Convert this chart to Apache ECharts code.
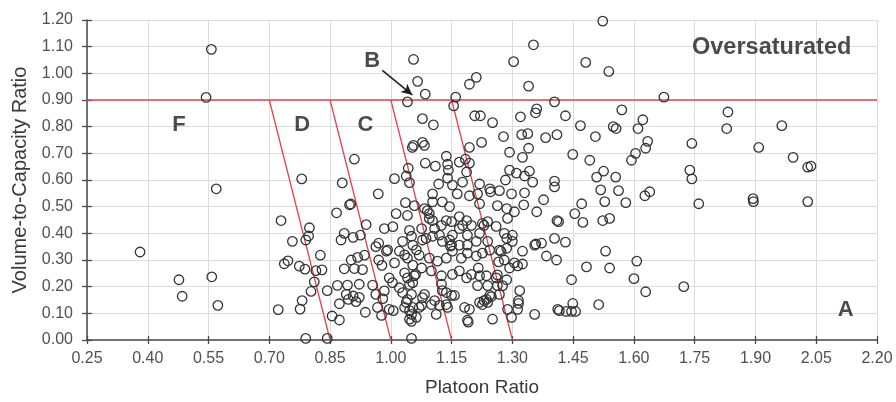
<!DOCTYPE html>
<html><head><meta charset="utf-8">
<script src="https://cdn.jsdelivr.net/npm/echarts@6/dist/echarts.min.js"></script>
<style>html,body{margin:0;padding:0;background:#fff}#c{width:896px;height:402px}</style>
</head><body><div id="c"></div>
<script>
// ---- axis settings ----
const xMin = 0.25, xMax = 2.20, xStep = 0.15;
const yMin = 0.00, yMax = 1.20, yStep = 0.10;
const xTitle = 'Platoon Ratio';
const yTitle = 'Volume-to-Capacity Ratio';

// ---- arrival-type boundaries ----
const vcLimit = 0.90;
const boundaryTopX = [0.70, 0.85, 1.00, 1.15];
const boundaryBottomX = [0.85, 1.00, 1.15, 1.30];

// ---- region labels ----
const regionNames = ['F', 'D', 'C', 'B', 'Oversaturated', 'A'];
const regionX = [0.477, 0.781, 0.937, 0.954, 1.940, 2.123];
const regionY = [0.807, 0.807, 0.807, 1.048, 1.096, 0.111];

// ---- arrow from label B ----
const arrowFrom = [0.979, 1.011];
const arrowTo = [1.053, 0.919];

// ---- observed points: [platoon ratio, v/c ratio] ----
const obsPoints = [
[0.557,1.09],[0.544,0.91],[0.569,0.567],[0.381,0.33],[0.477,0.226],[0.485,0.164],[0.558,0.237],[0.573,0.13],
[0.729,0.448],[0.757,0.370],[0.799,0.421],[0.797,0.39],[0.79,0.375],[0.737,0.286],[0.746,0.297],[0.774,0.277],[0.788,0.266],[0.815,0.26],[0.83,0.263],[0.826,0.318],[0.811,0.218],[0.803,0.182],[0.843,0.185],[0.781,0.148],[0.776,0.116],[0.722,0.114],[0.79,0.006],[0.843,0.006],[0.855,0.09],[0.873,0.075],[0.866,0.477],[0.898,0.507],[0.901,0.51],[0.877,0.375],[0.885,0.40],[0.907,0.385],[0.925,0.393],[0.939,0.433],[0.885,0.267],[0.902,0.30],[0.918,0.31],[0.935,0.318],[0.91,0.268],[0.93,0.264],[0.868,0.205],[0.893,0.206],[0.922,0.209],[0.89,0.171],[0.907,0.165],[0.895,0.152],[0.914,0.144],[0.922,0.16],[0.873,0.136],[0.937,0.104],[0.78,0.604],[0.88,0.589],[0.969,0.548],[0.91,0.678],
[0.955,0.206],[0.963,0.171],[0.967,0.122],[0.977,0.092],[0.98,0.155],[0.984,0.184],[0.963,0.35],[0.97,0.30],[0.978,0.28],[0.989,0.333],[0.984,0.418],[0.996,0.233],[1.004,0.215],[0.996,0.115],[1.006,0.11],[0.97,0.363],[1.005,0.425],[0.992,0.338],[1.013,0.474],[1.036,0.515],[1.041,0.467],[1.029,0.37],[1.021,0.333],[1.009,0.289],[1.034,0.319],[1.041,0.307],[1.046,0.411],[1.051,0.389],[1.054,0.356],[1.063,0.338],[1.021,0.196],[1.029,0.178],[1.034,0.252],[1.041,0.233],[1.046,0.208],[1.054,0.215],[1.061,0.246],[1.051,0.171],[1.041,0.152],[1.034,0.122],[1.046,0.11],[1.046,0.078],[1.051,0.07],[1.063,0.085],[1.051,0.006],[1.009,0.605],[1.046,0.59],[1.043,0.644],[1.038,0.615],
[1.118,0.585],[1.152,0.581],[1.177,0.592],[1.219,0.585],[1.244,0.567],[1.268,0.56],[1.283,0.60],[1.298,0.548],[1.33,0.552],[1.35,0.592],[1.404,0.596],[1.377,0.526],[1.103,0.548],[1.058,0.504],[1.083,0.493],[1.09,0.485],[1.095,0.474],[1.103,0.518],[1.103,0.448],[1.127,0.518],[1.145,0.5],[1.164,0.548],[1.194,0.541],[1.214,0.548],[1.219,0.511],[1.263,0.504],[1.286,0.493],[1.305,0.481],[1.36,0.481],[1.288,0.456],[1.41,0.448],[1.137,0.448],[1.15,0.444],[1.169,0.463],[1.187,0.448],[1.177,0.43],[1.199,0.43],[1.226,0.437],[1.23,0.43],[1.239,0.444],[1.26,0.426],[1.219,0.40],[1.189,0.393],[1.169,0.418],[1.152,0.393],[1.145,0.375],[1.15,0.356],[1.147,0.352],[1.12,0.393],[1.127,0.37],[1.108,0.418],[1.076,0.418],[1.078,0.375],[1.103,0.389],[1.169,0.356],[1.189,0.356],[1.211,0.37],[1.239,0.37],[1.286,0.381],[1.3,0.393],[1.268,0.337],[1.272,0.333],[1.286,0.344],[1.244,0.337],[1.226,0.326],[1.211,0.315],[1.189,0.326],[1.174,0.307],[1.152,0.333],[1.137,0.307],[1.115,0.296],[1.095,0.307],[1.07,0.318],[1.325,0.333],[1.355,0.356],[1.358,0.36],[1.372,0.363],[1.384,0.315],[1.404,0.381],[1.305,0.289],[1.325,0.285],[1.28,0.30],[1.293,0.27],[1.313,0.278],[1.216,0.27],[1.199,0.246],[1.219,0.241],[1.236,0.241],[1.169,0.259],[1.152,0.246],[1.187,0.233],[1.125,0.241],[1.1,0.259],[1.076,0.27],[1.054,0.281],[1.058,0.241],[1.26,0.233],[1.286,0.226],[1.239,0.204],[1.263,0.204],[1.214,0.204],[1.318,0.185],[1.125,0.209],[1.137,0.178],[1.15,0.167],[1.157,0.167],[1.083,0.171],[1.038,0.141],[1.054,0.122],[1.051,0.096],[1.076,0.13],[1.1,0.133],[1.108,0.148],[1.12,0.13],[1.14,0.122],[1.112,0.096],[1.182,0.122],[1.194,0.115],[1.189,0.074],[1.219,0.141],[1.23,0.148],[1.236,0.152],[1.239,0.141],[1.226,0.133],[1.251,0.078],[1.268,0.171],[1.288,0.115],[1.313,0.115],[1.315,0.148],[1.355,0.096],[1.412,0.115],[1.298,0.085],[1.244,0.167],[1.248,0.163],
[1.087,0.381],[1.078,0.159],[1.07,0.122],[1.095,0.456],[1.125,0.43],[1.127,0.185],[1.137,0.133],
[1.056,1.052],[1.066,0.97],[1.085,0.922],[1.041,0.893],[1.16,0.911],[1.155,0.878],[1.194,0.959],[1.211,0.985],[1.303,1.044],[1.352,1.107],[1.34,0.952],[1.404,0.893],[1.36,0.867],[1.357,0.852],[1.32,0.837],[1.251,0.815],[1.207,0.841],[1.221,0.841],[1.078,0.83],[1.105,0.807],[1.278,0.763],[1.323,0.77],[1.338,0.774],[1.382,0.759],[1.41,0.77],[1.078,0.741],[1.053,0.722],[1.056,0.73],[1.083,0.73],[1.194,0.722],[1.224,0.741],[1.293,0.704],[1.34,0.719],[1.325,0.685],[1.137,0.689],[1.14,0.659],[1.142,0.637],[1.085,0.663],[1.11,0.652],[1.169,0.667],[1.184,0.678],[1.194,0.663],[1.187,0.63],[1.293,0.637],[1.31,0.626],[1.33,0.615],[1.342,0.633],[1.14,0.607],[1.246,0.556],
[1.523,1.196],[1.481,1.041],[1.538,1.007],[1.674,0.911],[1.57,0.863],[1.832,0.855],[1.829,0.793],[1.965,0.804],[1.431,0.841],[1.468,0.804],[1.549,0.8],[1.556,0.793],[1.622,0.826],[1.61,0.793],[1.505,0.763],[1.634,0.745],[1.629,0.719],[1.743,0.737],[1.908,0.722],[1.449,0.696],[1.491,0.674],[1.604,0.7],[1.594,0.674],[1.993,0.685],[1.738,0.637],[1.743,0.604],[2.029,0.648],[2.037,0.652],[1.508,0.611],[1.525,0.633],[1.555,0.611],[1.404,0.574],[1.518,0.563],[1.562,0.56],[1.627,0.541],[1.639,0.556],[1.894,0.53],
[1.76,0.511],[1.895,0.519],[2.029,0.519],[1.471,0.511],[1.528,0.519],[1.58,0.515],[1.328,0.507],[1.454,0.474],[1.414,0.444],[1.474,0.441],[1.523,0.448],[1.54,0.456],[1.431,0.367],[1.53,0.333],[1.607,0.296],[1.409,0.30],[1.483,0.274],[1.54,0.27],[1.446,0.226],[1.6,0.23],[1.723,0.20],[1.629,0.181],[1.449,0.137],[1.446,0.107],[1.456,0.107],[1.433,0.107],[1.416,0.11],[1.513,0.133],[1.315,0.137],[1.191,0.067],[1.30,0.37],[1.28,0.40],[1.266,0.293],[1.263,0.244],[1.276,0.204]
];

// ---- build option (x is shifted so ticks start exactly at xMin) ----
const sx = v => +(v - xMin).toFixed(4);
const fmt2 = v => (+v).toFixed(2);
const redColor = '#e3444c';
const axisColor = '#4a4a4a';

const lineSeries = [];
lineSeries.push({type:'line', data:[[sx(xMin), vcLimit],[sx(xMax), vcLimit]], symbol:'none', silent:true,
  lineStyle:{color:redColor, width:1.4}, z:2});
boundaryTopX.forEach((tx,i)=>{
  lineSeries.push({type:'line', data:[[sx(tx), vcLimit],[sx(boundaryBottomX[i]), yMin]], symbol:'none', silent:true,
    lineStyle:{color:redColor, width:1.3}, z:2});
});

const baseX = {type:'value', min:0, max:+(xMax-xMin).toFixed(4), interval:xStep};
const baseY = {type:'value', min:yMin, max:yMax, interval:yStep};

const option = {
  animation:false,
  backgroundColor:'#ffffff',
  grid:{left:87, right:19, top:20, bottom:58},
  xAxis:[
    Object.assign({}, baseX, {
      position:'bottom',
      name:xTitle, nameLocation:'middle', nameGap:38,
      nameTextStyle:{fontFamily:'Liberation Sans, Arial', fontSize:19, color:'#3a3a3a'},
      axisLine:{show:true, onZero:false, lineStyle:{color:axisColor, width:1.5}},
      axisTick:{show:true, length:4, lineStyle:{color:axisColor, width:1.3}},
      axisLabel:{formatter:v=>fmt2(v + xMin), margin:11, fontFamily:'Liberation Sans, Arial', fontSize:16, color:'#505050'},
      splitLine:{show:true, lineStyle:{color:'#dcdcdc', width:1}}
    }),
    Object.assign({}, baseX, {
      position:'bottom',
      axisLine:{show:false},
      axisTick:{show:true, inside:true, length:4, lineStyle:{color:axisColor, width:1.3}},
      axisLabel:{show:false}, splitLine:{show:false}
    })
  ],
  yAxis:[
    Object.assign({}, baseY, {
      position:'left',
      name:yTitle, nameLocation:'middle', nameGap:56, nameRotate:90,
      nameTextStyle:{fontFamily:'Liberation Sans, Arial', fontSize:20, color:'#3a3a3a'},
      axisLine:{show:true, onZero:false, lineStyle:{color:axisColor, width:1.5}},
      axisTick:{show:true, length:5, lineStyle:{color:axisColor, width:1.3}},
      axisLabel:{formatter:v=>fmt2(v), margin:14, fontFamily:'Liberation Sans, Arial', fontSize:16, color:'#505050'},
      splitLine:{show:true, lineStyle:{color:'#dcdcdc', width:1}}
    }),
    Object.assign({}, baseY, {
      position:'left',
      axisLine:{show:false},
      axisTick:{show:true, inside:true, length:5, lineStyle:{color:axisColor, width:1.3}},
      axisLabel:{show:false}, splitLine:{show:false}
    })
  ],
  series: lineSeries.concat([
    {
      type:'scatter', z:3, silent:true,
      data: obsPoints.map(p=>[sx(p[0]), p[1]]),
      symbol:'circle', symbolSize:9.5,
      itemStyle:{color:'rgba(255,255,255,0)', borderColor:'#333333', borderWidth:1.3, opacity:1}
    },
    {
      type:'scatter', z:5, silent:true,
      data: regionNames.map((n,i)=>({name:n, value:[sx(regionX[i]), regionY[i]],
        label:{fontSize: n.length>1 ? 23.5 : 22}})),
      symbolSize:1, itemStyle:{color:'rgba(0,0,0,0)'},
      label:{show:true, position:'inside', formatter:'{b}', fontFamily:'Liberation Sans, Arial',
        fontWeight:'bold', color:'#1e1e1e'},
      markLine:{
        silent:true, symbol:['none','arrow'], symbolSize:[8,11],
        label:{show:false},
        lineStyle:{color:'#1e1e1e', width:1.5, type:'solid'},
        data:[[{coord:[sx(arrowFrom[0]), arrowFrom[1]]},{coord:[sx(arrowTo[0]), arrowTo[1]]}]]
      }
    }
  ])
};

const chart = echarts.init(document.getElementById('c'), null, {renderer:'canvas'});
chart.setOption(option);
</script>
</body></html>
